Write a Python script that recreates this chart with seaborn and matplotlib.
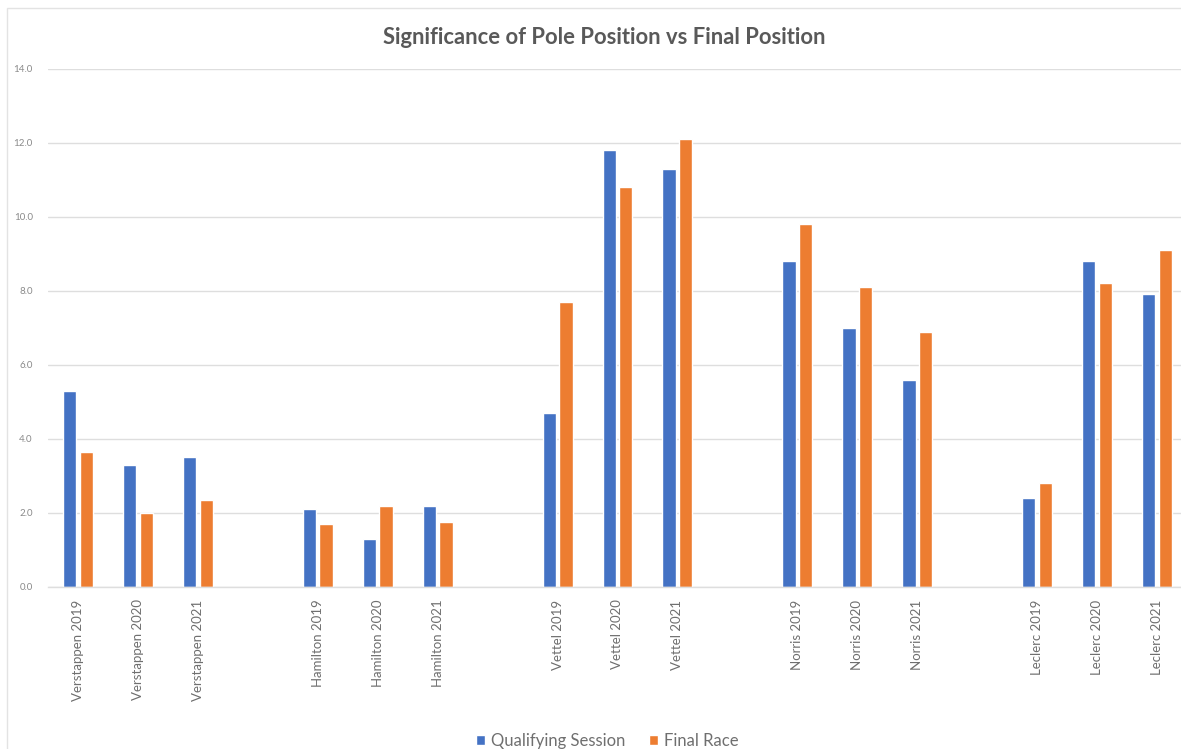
import matplotlib
matplotlib.use("Agg")
import matplotlib.pyplot as plt
import seaborn as sns
import pandas as pd
from matplotlib.patches import Rectangle

# Driver/season categories, with blank slots separating the drivers
drivers = ["Verstappen", "Hamilton", "Vettel", "Norris", "Leclerc"]
seasons = ["2019", "2020", "2021"]

qualifying = [5.3, 3.3, 3.5,
              2.1, 1.3, 2.2,
              4.7, 11.8, 11.3,
              8.8, 7.0, 5.6,
              2.4, 8.8, 7.9]
final_race = [3.65, 2.0, 2.35,
              1.7, 2.2, 1.75,
              7.7, 10.8, 12.1,
              9.8, 8.1, 6.9,
              2.8, 8.2, 9.1]

series_names = ["Qualifying Session", "Final Race"]
colors = ["#4472C4", "#ED7D31"]

labels = [f"{d} {s}" for d in drivers for s in seasons]

# category order: three seasons per driver, then an empty spacer slot
order = []
for i, d in enumerate(drivers):
    order += [f"{d} {s}" for s in seasons]
    if i < len(drivers) - 1:
        order.append(" " * (i + 1))

df = pd.DataFrame({
    "label": labels * 2,
    "value": qualifying + final_race,
    "series": [series_names[0]] * len(labels) + [series_names[1]] * len(labels),
})

sns.set_theme(style="white")
plt.rcParams["font.family"] = ["Lato", "DejaVu Sans"]

fig = plt.figure(figsize=(11.81, 7.49), dpi=100)
ax = fig.add_axes([48 / 1181, (749 - 587) / 749, 1 - 48 / 1181, (587 - 68.6) / 749])

sns.barplot(data=df, x="label", y="value", hue="series", order=order,
            hue_order=series_names, palette=colors, width=0.555, gap=0.2,
            saturation=1, ax=ax, legend=True)

ax.set_xlim(-0.5, 18.4)
ax.set_ylim(0, 14)
ax.set_yticks(range(0, 15, 2))
ax.set_yticklabels([f"{v:.1f}" for v in range(0, 15, 2)])
ax.yaxis.grid(True, color="#dedede", linewidth=1)
ax.set_axisbelow(True)
for side in ["top", "right", "left"]:
    ax.spines[side].set_visible(False)
ax.spines["bottom"].set_color("#dedede")
ax.spines["bottom"].set_linewidth(1)

ax.tick_params(axis="y", length=0, pad=11, labelsize=7, labelcolor="#8a8a8a")
ax.tick_params(axis="x", length=0, pad=9, labelsize=9.5, labelcolor="#6f6f6f",
               rotation=90)
ax.set_xlabel("")
ax.set_ylabel("")

ax.legend(loc="center", bbox_to_anchor=(607 / 1181, (749 - 741) / 749),
          bbox_transform=fig.transFigure, ncol=2, frameon=False,
          fontsize=12, labelcolor="#6f6f6f", handlelength=0.55,
          handleheight=0.55, handletextpad=0.35, columnspacing=1.4)

fig.text(604 / 1181, (749 - 37) / 749, "Significance of Pole Position vs Final Position",
         ha="center", va="center", fontsize=15.8, fontweight="bold", color="#595959")

# light chart-area border
fig.patches.append(Rectangle((7 / 1181, -0.1), 1.2, (749 - 8) / 749 + 0.1,
                             transform=fig.transFigure, fill=False,
                             edgecolor="#e3e3e3", linewidth=1))

fig.savefig("out.png", dpi=100, facecolor="white")
